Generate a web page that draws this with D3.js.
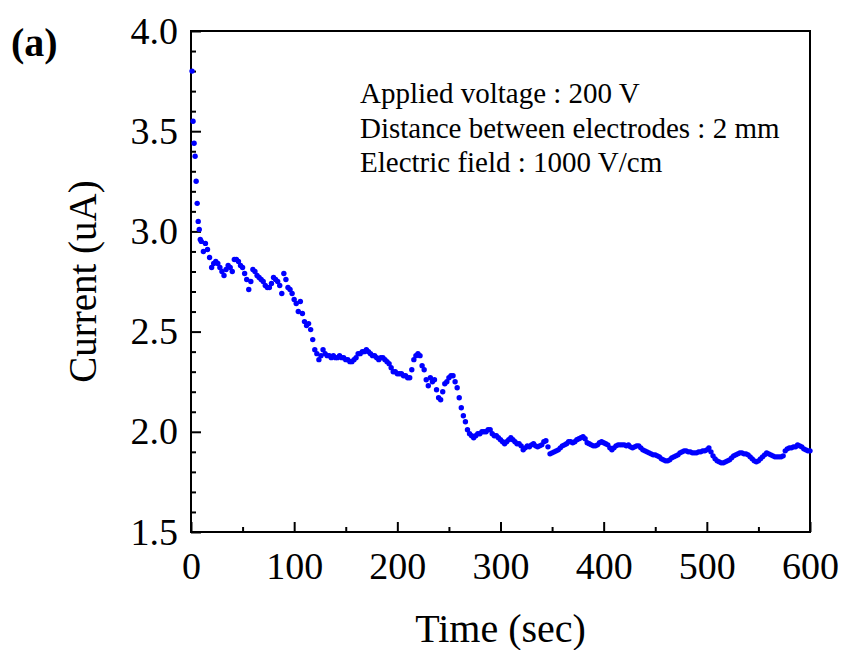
<!DOCTYPE html>
<html>
<head>
<meta charset="utf-8">
<script src="https://cdn.jsdelivr.net/npm/d3@7"></script>
<style>
  body { margin: 0; background: #fff; }
  text { font-family: "Liberation Serif", "Times New Roman", serif; }
</style>
</head>
<body>
<div id="chart"></div>
<script>
let width = 843, height = 650;

// first seconds, sampled every second
const startTime = [1, 2, 3, 4, 5, 6, 7, 8, 9];
const startCurrent = [3.80, 3.55, 3.44, 3.375, 3.25, 3.14, 3.05, 3.01, 2.96];

// rest of the record, from 10 s, one reading every 2 s
const mainStart = 10, mainStep = 2;
const mainCurrent = [
  2.95, 2.90, 2.94, 2.91, 2.87, 2.82, 2.84, 2.85, 2.84, 2.82,   // 10
  2.80, 2.78, 2.81, 2.83, 2.82, 2.80, 2.86, 2.86, 2.85, 2.83,   // 30
  2.82, 2.79, 2.76, 2.71, 2.75, 2.81, 2.80, 2.78, 2.77, 2.76,   // 50
  2.75, 2.73, 2.72, 2.72, 2.74, 2.77, 2.76, 2.75, 2.73, 2.69,   // 70
  2.79, 2.76, 2.72, 2.71, 2.69, 2.66, 2.64, 2.60, 2.65, 2.59,   // 90
  2.55, 2.53, 2.54, 2.51, 2.46, 2.41, 2.39, 2.36, 2.38, 2.41,   // 110
  2.39, 2.38, 2.38, 2.37, 2.38, 2.37, 2.37, 2.38, 2.37, 2.37,   // 130
  2.36, 2.36, 2.35, 2.35, 2.36, 2.37, 2.39, 2.39, 2.40, 2.40,   // 150
  2.41, 2.40, 2.39, 2.38, 2.38, 2.37, 2.36, 2.37, 2.37, 2.36,   // 170
  2.35, 2.34, 2.32, 2.30, 2.30, 2.29, 2.29, 2.29, 2.28, 2.28,   // 190
  2.27, 2.27, 2.31, 2.36, 2.38, 2.39, 2.38, 2.33, 2.31, 2.26,   // 210
  2.23, 2.27, 2.25, 2.26, 2.21, 2.17, 2.16, 2.20, 2.24, 2.25,   // 230
  2.27, 2.28, 2.28, 2.25, 2.22, 2.17, 2.12, 2.08, 2.05, 2.01,   // 250
  1.99, 1.98, 1.97, 1.98, 1.99, 1.99, 2.00, 2.00, 2.00, 2.01,   // 270
  2.01, 1.99, 1.98, 1.98, 1.97, 1.96, 1.95, 1.94, 1.95, 1.96,   // 290
  1.97, 1.96, 1.95, 1.94, 1.94, 1.93, 1.91, 1.92, 1.93, 1.925,  // 310
  1.935, 1.94, 1.93, 1.925, 1.93, 1.935, 1.95, 1.955, 1.925, 1.89, // 330
  1.895, 1.90, 1.905, 1.91, 1.92, 1.93, 1.935, 1.94, 1.95, 1.95,   // 350
  1.945, 1.95, 1.96, 1.965, 1.97, 1.975, 1.965, 1.945, 1.94, 1.935, // 370
  1.93, 1.93, 1.935, 1.945, 1.95, 1.945, 1.94, 1.935, 1.92, 1.91,  // 390
  1.92, 1.93, 1.935, 1.935, 1.935, 1.935, 1.93, 1.935, 1.925, 1.92, // 410
  1.925, 1.93, 1.93, 1.92, 1.91, 1.905, 1.90, 1.895, 1.89, 1.885,  // 430
  1.885, 1.88, 1.875, 1.865, 1.86, 1.855, 1.855, 1.86, 1.87, 1.875, // 450
  1.88, 1.885, 1.895, 1.90, 1.905, 1.905, 1.90, 1.90, 1.895, 1.895, // 470
  1.895, 1.90, 1.90, 1.905, 1.905, 1.91, 1.92, 1.90, 1.88, 1.865,  // 490
  1.855, 1.85, 1.845, 1.845, 1.85, 1.855, 1.86, 1.87, 1.88, 1.885, // 510
  1.89, 1.895, 1.895, 1.89, 1.89, 1.885, 1.875, 1.865, 1.855, 1.85, // 530
  1.855, 1.865, 1.875, 1.885, 1.895, 1.89, 1.885, 1.88, 1.875, 1.875, // 550
  1.875, 1.875, 1.88, 1.905, 1.915, 1.92, 1.92, 1.925, 1.925, 1.935, // 570
  1.93, 1.925, 1.915, 1.91, 1.905, 1.905                           // 590
];

const xTicks = [0, 100, 200, 300, 400, 500, 600];
const xMinor = [50, 150, 250, 350, 450, 550];
const yTicks = [1.5, 2.0, 2.5, 3.0, 3.5, 4.0];
const yMinor = [1.6, 1.7, 1.8, 1.9, 2.1, 2.2, 2.3, 2.4, 2.6, 2.7, 2.8, 2.9, 3.1, 3.2, 3.3, 3.4, 3.6, 3.7, 3.8, 3.9];
const notes = ["Applied voltage : 200 V", "Distance between electrodes : 2 mm", "Electric field : 1000 V/cm"];

const plotLeft = 191, plotTop = 31, plotRight = 810, plotBottom = 532;

const x = d3.scaleLinear().domain([0, 600]).range([plotLeft, plotRight]);
const y = d3.scaleLinear().domain([1.5, 4.0]).range([plotBottom, plotTop]);

const svg = d3.select("#chart")
    .append("svg")
    .attr("width", width)
    .attr("height", height);

const points = startTime.map((t, i) => ({t: t, v: startCurrent[i]}))
    .concat(mainCurrent.map((v, i) => ({t: mainStart + i * mainStep, v: v})));

// axes, ticks pointing inward
svg.append("g")
    .attr("transform", "translate(0," + plotBottom + ")")
    .call(d3.axisBottom(x).tickValues(xTicks).tickSize(-10).tickPadding(20).tickFormat(d3.format("d")));
svg.append("g")
    .attr("transform", "translate(0," + plotBottom + ")")
    .call(d3.axisBottom(x).tickValues(xMinor).tickSize(-5).tickFormat(""));

svg.append("g")
    .attr("transform", "translate(" + plotLeft + ",0)")
    .call(d3.axisLeft(y).tickValues(yTicks).tickSize(-10).tickPadding(13).tickFormat(d3.format(".1f")));
svg.append("g")
    .attr("transform", "translate(" + plotLeft + ",0)")
    .call(d3.axisLeft(y).tickValues(yMinor).tickSize(-5).tickFormat(""));

svg.selectAll(".domain").remove();
svg.selectAll(".tick line").attr("stroke", "#000").attr("stroke-width", 2);
svg.selectAll(".tick text").attr("font-size", "38px").attr("fill", "#000")
    .style("font-family", "'Liberation Serif', 'Times New Roman', serif");

// frame
svg.append("rect")
    .attr("x", plotLeft)
    .attr("y", plotTop)
    .attr("width", plotRight - plotLeft)
    .attr("height", plotBottom - plotTop)
    .attr("fill", "none")
    .attr("stroke", "#000")
    .attr("stroke-width", 2);

svg.append("g")
    .selectAll("circle")
    .data(points)
    .enter()
    .append("circle")
    .attr("cx", d => x(d.t))
    .attr("cy", d => y(d.v))
    .attr("r", 2.7)
    .attr("fill", "#0000ff");

// labels
svg.append("text")
    .attr("x", (plotLeft + plotRight) / 2)
    .attr("y", 642)
    .attr("text-anchor", "middle")
    .attr("font-size", "40px")
    .text("Time (sec)");

svg.append("text")
    .attr("transform", "translate(96," + (plotTop + plotBottom) / 2 + ") rotate(-90)")
    .attr("text-anchor", "middle")
    .attr("font-size", "39px")
    .text("Current (uA)");

svg.append("text")
    .attr("x", 11)
    .attr("y", 56)
    .attr("font-size", "40px")
    .attr("font-weight", "bold")
    .text("(a)");

svg.append("g")
    .selectAll("text")
    .data(notes)
    .enter()
    .append("text")
    .attr("x", 360)
    .attr("y", (d, i) => 103 + i * 34.5)
    .attr("font-size", "29px")
    .text(d => d);
</script>
</body>
</html>
